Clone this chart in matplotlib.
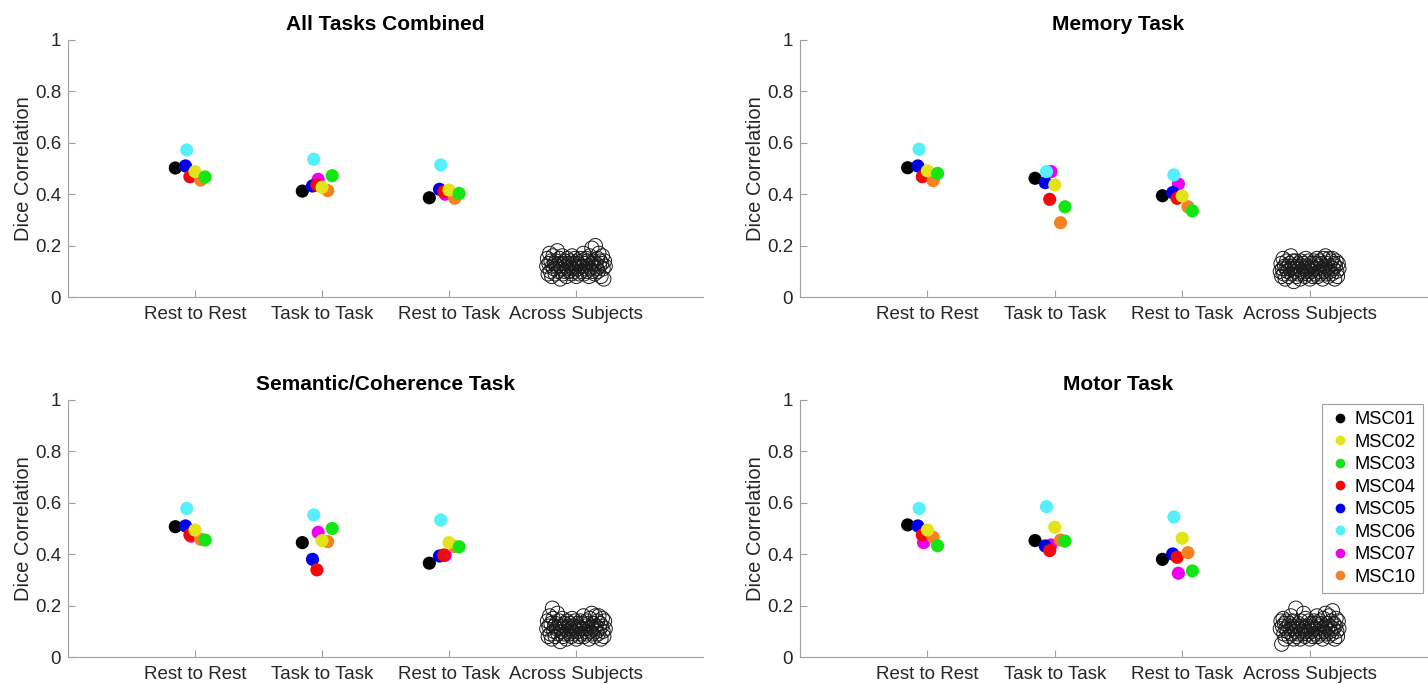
import numpy as np
import matplotlib
matplotlib.use('Agg')
import matplotlib.pyplot as plt

plt.rcParams['font.family'] = ['Liberation Sans', 'DejaVu Sans']

subjects = ['MSC01', 'MSC02', 'MSC03', 'MSC04', 'MSC05', 'MSC06', 'MSC07', 'MSC10']
colors = ['#000000', '#e3e31c', '#14e614', '#f00a0a', '#0000e6', '#55f0fa', '#f000f0', '#f5821e']
categories = ['Rest to Rest', 'Task to Task', 'Rest to Task', 'Across Subjects']
titles = ['All Tasks Combined', 'Memory Task', 'Semantic/Coherence Task', 'Motor Task']

# within-subject dice values, one list per comparison, subjects in order above
all_tasks = [[0.502, 0.488, 0.467, 0.468, 0.510, 0.572, 0.470, 0.455],
             [0.412, 0.427, 0.472, 0.436, 0.432, 0.536, 0.458, 0.414],
             [0.386, 0.416, 0.403, 0.410, 0.419, 0.514, 0.400, 0.384]]
memory = [[0.503, 0.491, 0.481, 0.468, 0.510, 0.575, 0.470, 0.453],
          [0.462, 0.436, 0.351, 0.380, 0.445, 0.488, 0.488, 0.289],
          [0.394, 0.393, 0.335, 0.384, 0.406, 0.475, 0.440, 0.351]]
semantic = [[0.507, 0.494, 0.455, 0.475, 0.510, 0.578, 0.470, 0.458],
            [0.445, 0.453, 0.500, 0.339, 0.380, 0.553, 0.485, 0.449],
            [0.365, 0.445, 0.429, 0.397, 0.393, 0.533, 0.395, 0.430]]
motor = [[0.514, 0.494, 0.433, 0.475, 0.510, 0.578, 0.445, 0.466],
         [0.453, 0.505, 0.451, 0.414, 0.432, 0.585, 0.436, 0.455],
         [0.380, 0.462, 0.335, 0.388, 0.401, 0.545, 0.326, 0.406]]

# across-subject pairs, read left to right across the cloud
across_all = [0.12, 0.15, 0.09, 0.13, 0.17, 0.10, 0.14, 0.08, 0.12, 0.16, 0.11, 0.13,
              0.09, 0.14, 0.12, 0.18, 0.10, 0.13, 0.15, 0.07, 0.12, 0.11, 0.16, 0.09,
              0.13, 0.10, 0.14, 0.12, 0.08, 0.15, 0.11, 0.13, 0.10, 0.14, 0.12, 0.09,
              0.16, 0.11, 0.13, 0.10, 0.15, 0.12, 0.08, 0.14, 0.11, 0.13, 0.09, 0.12,
              0.15, 0.10, 0.14, 0.12, 0.17, 0.09, 0.13, 0.11, 0.15, 0.10, 0.14, 0.12,
              0.08, 0.16, 0.11, 0.13, 0.19, 0.10, 0.14, 0.12, 0.09, 0.20, 0.13, 0.11,
              0.15, 0.10, 0.17, 0.12, 0.14, 0.08, 0.13, 0.16, 0.11, 0.07, 0.14, 0.12]
across_memory = [0.10, 0.13, 0.08, 0.11, 0.15, 0.09, 0.12, 0.07, 0.11, 0.14, 0.10, 0.12,
                 0.08, 0.13, 0.11, 0.16, 0.09, 0.12, 0.14, 0.06, 0.11, 0.10, 0.14, 0.08,
                 0.12, 0.09, 0.13, 0.11, 0.07, 0.14, 0.10, 0.12, 0.09, 0.13, 0.11, 0.08,
                 0.15, 0.10, 0.12, 0.09, 0.14, 0.11, 0.07, 0.13, 0.10, 0.12, 0.08, 0.11,
                 0.14, 0.09, 0.13, 0.11, 0.15, 0.08, 0.12, 0.10, 0.14, 0.09, 0.13, 0.11,
                 0.07, 0.15, 0.10, 0.12, 0.16, 0.09, 0.13, 0.11, 0.08, 0.15, 0.12, 0.10,
                 0.14, 0.09, 0.15, 0.11, 0.13, 0.07, 0.12, 0.14, 0.10, 0.08, 0.13, 0.11]
across_semantic = [0.11, 0.14, 0.08, 0.12, 0.16, 0.09, 0.13, 0.07, 0.19, 0.15, 0.10, 0.12,
                   0.08, 0.13, 0.11, 0.17, 0.09, 0.12, 0.14, 0.06, 0.11, 0.10, 0.15, 0.08,
                   0.12, 0.09, 0.13, 0.11, 0.07, 0.14, 0.10, 0.12, 0.09, 0.13, 0.11, 0.08,
                   0.15, 0.10, 0.12, 0.09, 0.14, 0.11, 0.07, 0.13, 0.10, 0.12, 0.08, 0.11,
                   0.14, 0.09, 0.13, 0.11, 0.16, 0.08, 0.12, 0.10, 0.14, 0.09, 0.13, 0.11,
                   0.07, 0.15, 0.10, 0.12, 0.17, 0.09, 0.13, 0.11, 0.08, 0.16, 0.12, 0.10,
                   0.14, 0.09, 0.16, 0.11, 0.13, 0.07, 0.12, 0.15, 0.10, 0.08, 0.14, 0.11]
across_motor = [0.11, 0.14, 0.05, 0.12, 0.15, 0.09, 0.13, 0.07, 0.11, 0.14, 0.10, 0.12,
                0.08, 0.13, 0.11, 0.16, 0.09, 0.12, 0.14, 0.07, 0.11, 0.10, 0.19, 0.08,
                0.12, 0.09, 0.13, 0.11, 0.07, 0.14, 0.10, 0.12, 0.09, 0.17, 0.11, 0.08,
                0.15, 0.10, 0.12, 0.09, 0.14, 0.11, 0.07, 0.13, 0.10, 0.12, 0.08, 0.11,
                0.14, 0.09, 0.13, 0.11, 0.16, 0.08, 0.12, 0.10, 0.14, 0.09, 0.13, 0.11,
                0.07, 0.15, 0.10, 0.12, 0.17, 0.09, 0.13, 0.11, 0.08, 0.16, 0.12, 0.10,
                0.14, 0.09, 0.18, 0.11, 0.13, 0.07, 0.12, 0.15, 0.10, 0.08, 0.14, 0.11]

panels = [all_tasks, memory, semantic, motor]
clouds = [across_all, across_memory, across_semantic, across_motor]

# horizontal offset and stacking order for each subject
offsets = [-0.155, 0.0, 0.08, -0.04, -0.075, -0.065, -0.03, 0.045]
draw_order = [0, 6, 4, 3, 5, 7, 1, 2]

W, H = 1428, 684
fig = plt.figure(figsize=(W / 100, H / 100), dpi=100)
axes_px = [(68, 40, 635, 257), (800, 40, 637, 257), (68, 400, 635, 257), (800, 400, 637, 257)]
axis_gray = '#a0a0a0'
text_col = '#262626'

for k in range(4):
    x0, y0, w, h = axes_px[k]
    ax = fig.add_axes([x0 / W, 1 - (y0 + h) / H, w / W, h / H])
    vals = panels[k]
    for z, i in enumerate(draw_order):
        xs = [c + 1 + offsets[i] for c in range(3)]
        ys = [vals[c][i] for c in range(3)]
        ax.scatter(xs, ys, s=90, color=colors[i], edgecolors='none', zorder=3 + z)
    cloud = clouds[k]
    cx = 4 + np.linspace(-0.23, 0.23, len(cloud))
    ax.scatter(cx, cloud, s=105, facecolors='none', edgecolors='#1a1a1a', linewidths=0.7, zorder=2)

    ax.set_xlim(0, 5)
    ax.set_ylim(0, 1)
    ax.set_xticks([1, 2, 3, 4])
    ax.set_xticklabels(categories)
    ax.set_yticks([0, 0.2, 0.4, 0.6, 0.8, 1])
    ax.set_yticklabels(['0', '0.2', '0.4', '0.6', '0.8', '1'])
    ax.tick_params(direction='in', length=5, color=axis_gray, labelsize=13.5,
                   labelcolor=text_col)
    ax.tick_params(axis='x', pad=6.5)
    ax.tick_params(axis='y', pad=5)
    ax.spines['top'].set_visible(False)
    ax.spines['right'].set_visible(False)
    ax.spines['left'].set_color(axis_gray)
    ax.spines['bottom'].set_color(axis_gray)
    ax.set_ylabel('Dice Correlation', fontsize=14.5, color=text_col, labelpad=1)
    ax.set_title(titles[k], fontsize=15, fontweight='bold', color='black', pad=7)

handles = [plt.Line2D([], [], marker='o', linestyle='none', markersize=7,
                      markerfacecolor=colors[i], markeredgecolor='none') for i in range(8)]
leg = fig.legend(handles, subjects, loc='upper left', bbox_to_anchor=(1322 / W, 1 - 404 / H),
                 fontsize=13.2, frameon=True, fancybox=False, edgecolor='#888888',
                 handletextpad=0.2, labelspacing=0.3, borderpad=0.4, handlelength=1.2,
                 borderaxespad=0)
leg.get_frame().set_linewidth(0.8)

fig.savefig('out.png', dpi=100, facecolor='white')
